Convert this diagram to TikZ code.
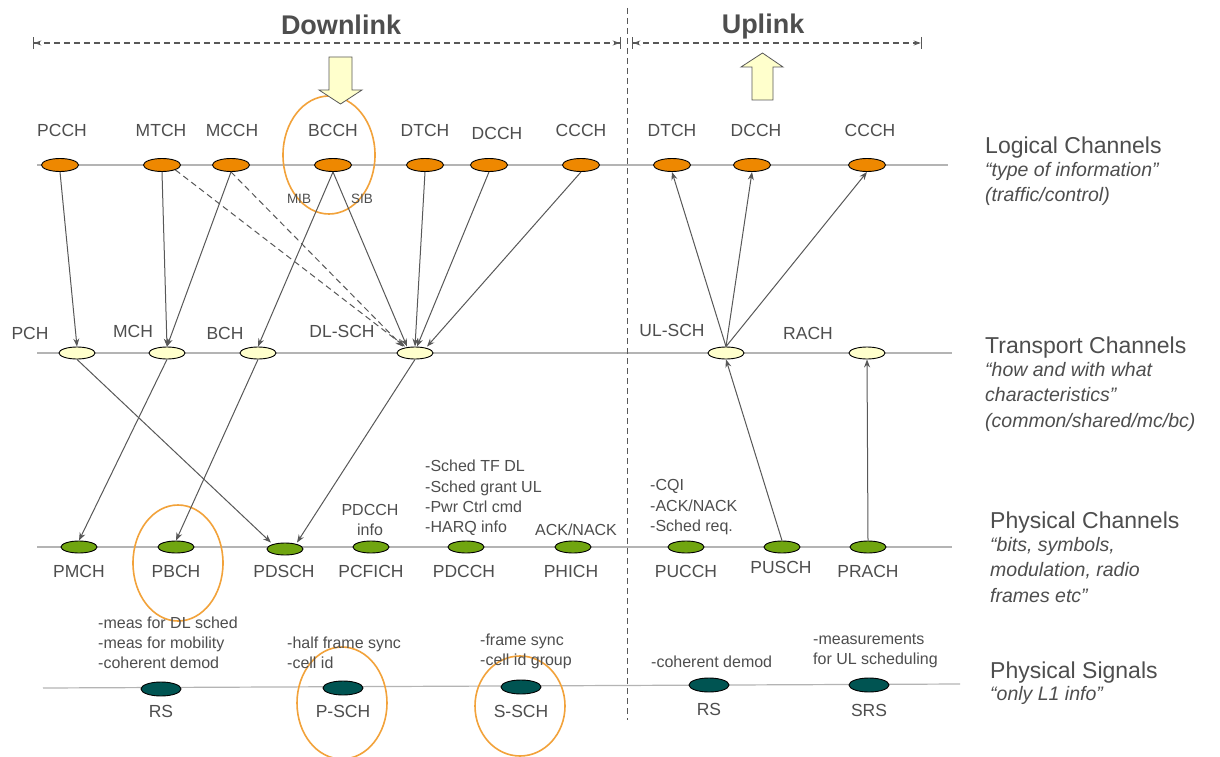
\documentclass[tikz,border=0pt]{standalone}
\usepackage{fontspec}
\setmainfont{Liberation Sans}
\usetikzlibrary{shapes.geometric,arrows.meta}
\definecolor{txt}{HTML}{4E4E4E}
\definecolor{lin}{HTML}{B4B4B4}
\definecolor{con}{HTML}{585858}
\definecolor{logc}{HTML}{EE8800}
\definecolor{trc}{HTML}{FFFFCC}
\definecolor{phc}{HTML}{70A510}
\definecolor{sgc}{HTML}{005452}
\definecolor{ring}{HTML}{F2A23A}
\tikzset{
  base/.style={ellipse,draw=black,line width=0.9pt,inner sep=0pt,minimum height=13pt},
  lg/.style={base,fill=logc,minimum width=37pt},
  tr/.style={base,fill=trc,minimum width=36pt,minimum height=12pt},
  ph/.style={base,fill=phc,minimum width=36pt,minimum height=12pt},
  sg/.style={base,fill=sgc,minimum width=40pt,minimum height=14pt},
  chl/.style={text=txt,font=\fontsize{17.5}{18}\selectfont,inner sep=0pt},
  ann/.style={text=txt,font=\fontsize{16}{20.3}\selectfont,inner sep=0pt,align=left},
  small/.style={text=txt,font=\fontsize{13.5}{14}\selectfont,inner sep=0pt},
  ttl/.style={text=txt,font=\fontsize{23}{24}\selectfont,inner sep=0pt,anchor=west},
  sub/.style={text=txt,font=\fontsize{19.5}{25.5}\selectfont\itshape,inner sep=0pt,anchor=north west,align=left},
  conn/.style={draw=con,line width=1pt,-{Stealth[length=8pt,width=6pt]}},
  dconn/.style={conn,dash pattern=on 6pt off 4pt},
  layer/.style={draw=lin,line width=1.2pt},
  ringst/.style={draw=ring,line width=1.6pt},
}
\begin{document}
\begin{tikzpicture}[x=1pt,y=-1pt]
\useasboundingbox (0,0) rectangle (1220,757);
\fill[white] (0,0) rectangle (1220,757);

% layer lines
\draw[layer] (37,165) -- (948,165);
\draw[layer] (37,353) -- (952,353);
\draw[layer] (37,547) -- (952,547);
\draw[layer] (43,688) -- (960,684);

% divider
\draw[con,line width=1pt,dash pattern=on 6pt off 4pt] (627,8) -- (627,720);

% rings
\draw[ringst] (329,155) ellipse [x radius=46, y radius=59];
\draw[ringst] (178,563) ellipse [x radius=45, y radius=58];
\draw[ringst] (342,703) ellipse [x radius=45, y radius=56];
\draw[ringst] (520,706) ellipse [x radius=45, y radius=50];

% Downlink / Uplink
\node[text=txt,font=\fontsize{27}{28}\selectfont\bfseries] (dl) at (341,25) {Downlink};
\node[text=txt,font=\fontsize{27}{28}\selectfont\bfseries] (ul) at (763,27) {Uplink};
\coordinate (dla) at (33,43); \coordinate (dlb) at (621,43);
\coordinate (ula) at (632,43); \coordinate (ulb) at (922,43);
\draw[con,line width=1.3pt,dash pattern=on 6pt off 4pt,{Bar[width=12pt]Stealth[length=7pt,width=5pt]}-{Stealth[length=7pt,width=5pt]Bar[width=12pt]}] (dla) -- (dlb);
\draw[con,line width=1.3pt,dash pattern=on 6pt off 4pt,{Bar[width=12pt]Stealth[length=7pt,width=5pt]}-{Stealth[length=7pt,width=5pt]Bar[width=12pt]}] (ula) -- (ulb);

% block arrows
\draw[fill=trc,draw=con,line width=0.8pt] (329,57) -- (352,57) -- (352,90) -- (362,90) -- (340.5,104) -- (319,90) -- (329,90) -- cycle;
\draw[fill=trc,draw=con,line width=0.8pt] (752,100) -- (773,100) -- (773,67) -- (783,67) -- (762.5,53) -- (741,67) -- (752,67) -- cycle;

% logical channels
\node[lg] (pcch) at (60,165) {};
\node[lg] (mtch) at (162,165) {};
\node[lg] (mcch) at (231,165) {};
\node[lg] (bcch) at (333,165) {};
\node[lg] (dtch) at (425,165) {};
\node[lg] (dcch) at (489,165) {};
\node[lg] (ccch) at (581,165) {};
\node[lg] (udtch) at (672,165) {};
\node[lg] (udcch) at (752,165) {};
\node[lg] (uccch) at (867,165) {};
\node[chl] at (62,130) {PCCH};
\node[chl] at (161,130) {MTCH};
\node[chl] at (232,130) {MCCH};
\node[chl] at (333,130) {BCCH};
\node[chl] at (425,130) {DTCH};
\node[chl] at (497,133) {DCCH};
\node[chl] at (581,130) {CCCH};
\node[chl] at (672,130) {DTCH};
\node[chl] at (756,130) {DCCH};
\node[chl] at (870,130) {CCCH};
\node[small] at (299,199) {MIB};
\node[small] at (362,199) {SIB};

% transport channels
\node[tr] (pch) at (77,353) {};
\node[tr] (mch) at (167,353) {};
\node[tr] (bch) at (258,353) {};
\node[tr] (dlsch) at (415,353) {};
\node[tr] (ulsch) at (726,353) {};
\node[tr] (rach) at (867,353) {};
\node[chl] at (30,333) {PCH};
\node[chl] at (133,331) {MCH};
\node[chl] at (225,333) {BCH};
\node[chl] at (342,331) {DL-SCH};
\node[chl] at (672,330) {UL-SCH};
\node[chl] at (808,333) {RACH};

% physical channels
\node[ph] (pmch) at (79,547) {};
\node[ph] (pbch) at (176,547) {};
\node[ph] (pdsch) at (285,549) {};
\node[ph] (pcfich) at (371,547) {};
\node[ph] (pdcch) at (466,547) {};
\node[ph] (phich) at (573,547) {};
\node[ph] (pucch) at (686,547) {};
\node[ph] (pusch) at (782,547) {};
\node[ph] (prach) at (868,547) {};
\node[chl] at (79,571) {PMCH};
\node[chl] at (176,571) {PBCH};
\node[chl] at (284,571) {PDSCH};
\node[chl] at (371,571) {PCFICH};
\node[chl] at (464,571) {PDCCH};
\node[chl] at (571,571) {PHICH};
\node[chl] at (686,571) {PUCCH};
\node[chl] at (781,567) {PUSCH};
\node[chl] at (868,571) {PRACH};
\node[ann,align=center,anchor=south] at (370,536) {PDCCH\\info};
\node[ann,anchor=south west] at (425,536) {-Sched TF DL\\-Sched grant UL\\-Pwr Ctrl cmd\\-HARQ info};
\node[ann,anchor=south] at (576,536) {ACK/NACK};
\node[ann,anchor=south west] at (650,535) {-CQI\\-ACK/NACK\\-Sched req.};

% physical signals
\node[sg] (rs) at (161,689) {};
\node[sg] (psch) at (343,688) {};
\node[sg] (ssch) at (521,687) {};
\node[sg] (urs) at (709,685) {};
\node[sg] (srs) at (869,685) {};
\node[chl] at (161,711) {RS};
\node[chl] at (343,711) {P-SCH};
\node[chl] at (521,711) {S-SCH};
\node[chl] at (709,709) {RS};
\node[chl] at (869,710) {SRS};
\node[ann,anchor=south west] at (98,669) {-meas for DL sched\\-meas for mobility\\-coherent demod};
\node[ann,anchor=south west] at (287,669) {-half frame sync\\-cell id};
\node[ann,anchor=south west] at (480,669) {-frame sync\\-cell id group};
\node[ann,anchor=south west] at (651,668) {-coherent demod};
\node[ann,anchor=south west] at (813,668) {-measurements\\for UL scheduling};

% right titles
\node[ttl] at (985,148) {Logical Channels};
\node[sub] at (985,162) {“type of information”\\(traffic/control)};
\node[ttl] at (985,348) {Transport Channels};
\node[sub] at (985,362) {“how and with what\\characteristics”\\(common/shared/mc/bc)};
\node[ttl] at (990,523) {Physical Channels};
\node[sub] at (990,537) {“bits, symbols,\\modulation, radio\\frames etc”};
\node[ttl] at (990,673) {Physical Signals};
\node[sub] at (990,686) {“only L1 info”};

% connectors logical -> transport
\draw[conn] (pcch.south) -- (pch.north);
\draw[conn] (mtch.south) -- (mch.north);
\draw[conn] (mcch.south) -- (mch.north);
\draw[dconn] (mtch.south east) -- ([xshift=-10pt]dlsch.north);
\draw[dconn] (mcch.south) -- ([xshift=-12pt]dlsch.north);
\draw[conn] (bcch.south) -- (bch.north);
\draw[conn] (bcch.south) -- ([xshift=-8pt]dlsch.north);
\draw[conn] (dtch.south) -- (dlsch.north);
\draw[conn] (dcch.south) -- ([xshift=2pt]dlsch.north);
\draw[conn] (ccch.south) -- ([xshift=12pt]dlsch.north);
% uplink transport -> logical
\draw[conn] (ulsch.north) -- (udtch.south);
\draw[conn] (ulsch.north) -- (udcch.south);
\draw[conn] (ulsch.north) -- (uccch.south);
% transport -> physical
\draw[conn] (pch.south) -- ([xshift=-14pt]pdsch.north);
\draw[conn] (mch.south) -- (pmch.north);
\draw[conn] (bch.south) -- (pbch.north);
\draw[conn] (dlsch.south) -- ([xshift=12pt]pdsch.north);
% physical -> transport uplink
\draw[conn] (pusch.north) -- (ulsch.south);
\draw[conn] (prach.north) -- (rach.south);
\end{tikzpicture}
\end{document}
